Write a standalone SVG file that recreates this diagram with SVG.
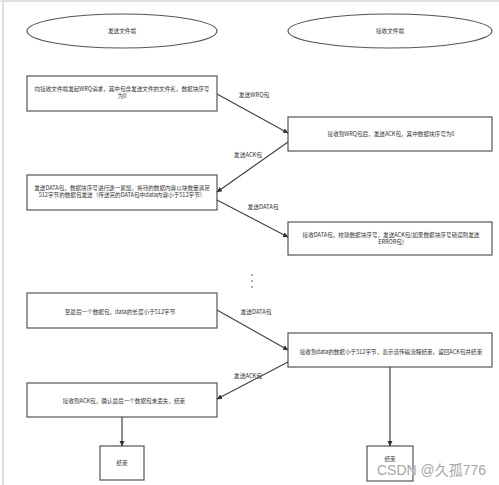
<svg xmlns="http://www.w3.org/2000/svg" width="499" height="485" viewBox="0 0 499 485">
<style>
.box{fill:#fff;stroke:#555;stroke-width:1.2}
.t{font-family:"Noto Sans CJK SC","Liberation Sans",sans-serif;font-size:5.6px;fill:#333;text-anchor:middle}
.lbl{font-family:"Noto Sans CJK SC","Liberation Sans",sans-serif;font-size:5.8px;fill:#333;text-anchor:middle}
.c{fill:none;stroke:#444;stroke-width:1.2;marker-end:url(#ah)}
.wm{font-family:"Liberation Sans","Noto Sans CJK SC",sans-serif;font-size:14px;fill:#a6a6a6;stroke:#fff;stroke-width:0.6;paint-order:stroke}
</style>
<defs>
<marker id="ah" markerWidth="6" markerHeight="6" refX="5" refY="3" orient="auto" markerUnits="userSpaceOnUse">
<path d="M0,0.5 L5.5,3 L0,5.5 Z" fill="#333"/>
</marker>
</defs>
<rect width="499" height="485" fill="#fff"/>
<path d="M0.5,1 H499 M3,1 V485" stroke="#d6d6d6" stroke-width="1.5" fill="none"/>

<g id="sender">
<ellipse class="box" cx="122" cy="31" rx="95" ry="17"/>
<text class="t" x="122" y="33">发送文件端</text>
</g>
<g id="receiver">
<ellipse class="box" cx="390" cy="31" rx="102" ry="17"/>
<text class="t" x="390" y="33">接收文件端</text>
</g>

<g id="n1">
<rect class="box" x="27" y="76" width="190" height="35"/>
<text class="t" x="122" y="91">向接收文件端发起WRQ请求，其中包含发送文件的文件名，数据块序号<tspan x="122" dy="7">为0</tspan></text>
</g>
<g id="n2">
<rect class="box" x="288" y="117" width="204" height="34"/>
<text class="t" x="391" y="136">接收到WRQ包后，发送ACK包，其中数据块序号为0</text>
</g>
<g id="n3">
<rect class="box" x="27" y="175" width="190" height="35"/>
<text class="t" x="122" y="190">发送DATA包，数据块序号进行逐一累加，将待的数据内容以块数量满足<tspan x="122" dy="7">512字节的数据包发送（传送完的DATA包中data内容小于512字节）</tspan></text>
</g>
<g id="n4">
<rect class="box" x="288" y="222" width="204" height="33"/>
<text class="t" x="391" y="237">接收DATA包，校验数据块序号，发送ACK包(如果数据块序号错误则发送<tspan x="391" dy="7">ERROR包)</tspan></text>
</g>
<g id="dots">
<circle cx="252" cy="275" r="0.8" fill="#444"/>
<circle cx="252" cy="281" r="0.8" fill="#444"/>
<circle cx="252" cy="287" r="0.8" fill="#444"/>
</g>
<g id="n5">
<rect class="box" x="27" y="293" width="190" height="35"/>
<text class="t" x="120" y="314">至最后一个数据包，data的长度小于512字节</text>
</g>
<g id="n6">
<rect class="box" x="288" y="333" width="204" height="34"/>
<text class="t" x="391" y="354">接收到data的数据小于512字节，表示该传输流程结束，返回ACK包并结束</text>
</g>
<g id="n7">
<rect class="box" x="27" y="383" width="190" height="34"/>
<text class="t" x="124" y="403">接收到ACK包，确认最后一个数据包未丢失，结束</text>
</g>
<g id="end1">
<rect class="box" x="100" y="446" width="44" height="34"/>
<text class="t" x="122" y="465">结束</text>
</g>
<g id="end2">
<rect class="box" x="367" y="446" width="46" height="35"/>
<text class="t" x="390" y="461">结束</text>
</g>

<g id="connectors">
<path class="c" d="M217,94 L288,133"/>
<path class="c" d="M288,142 L217,192"/>
<path class="c" d="M217,200 L288,237"/>
<path class="c" d="M217,310 L288,350"/>
<path class="c" d="M288,362 L217,399"/>
<path class="c" d="M122,417 L122,446"/>
<path class="c" d="M390,367 L390,446"/>
<text class="lbl" x="254" y="97">发送WRQ包</text>
<text class="lbl" x="248" y="157">发送ACK包</text>
<text class="lbl" x="263" y="209">发送DATA包</text>
<text class="lbl" x="256" y="314">发送DATA包</text>
<text class="lbl" x="248" y="378">发送ACK包</text>
</g>

<text class="wm" x="377" y="475">CSDN @久孤776</text>
</svg>
